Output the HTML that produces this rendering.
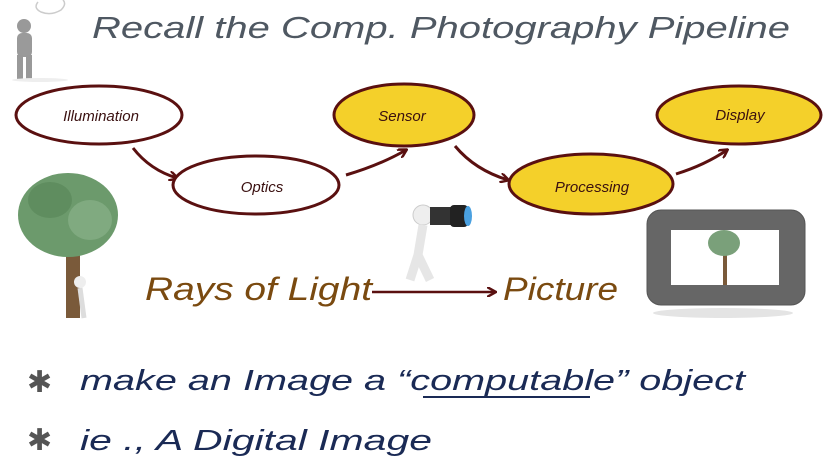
<!DOCTYPE html>
<html><head><meta charset="utf-8"><style>
html,body{margin:0;padding:0;background:#fff;}
svg{display:block;}
text{font-family:"Liberation Sans",sans-serif;}
</style></head><body>
<svg width="838" height="472" viewBox="0 0 838 472" xmlns="http://www.w3.org/2000/svg">
<defs>
<marker id="ah" markerWidth="10" markerHeight="10" refX="8" refY="5" orient="auto" markerUnits="userSpaceOnUse"><path d="M0,0 L9,5 L0,10" fill="none" stroke="#5a1010" stroke-width="2.5"/></marker>
</defs>
<!-- thinking figure -->
<path d="M38,2 q-5,6 3,10 q10,4 20,-2 q6,-6 2,-10" fill="none" stroke="#ccc" stroke-width="1.5"/>
<circle cx="24" cy="26" r="7" fill="#999"/>
<rect x="17" y="33" width="15" height="24" rx="5" fill="#9a9a9a"/>
<rect x="17" y="55" width="6" height="24" fill="#999"/><rect x="26" y="55" width="6" height="24" fill="#999"/>
<ellipse cx="40" cy="80" rx="28" ry="2" fill="#eee"/>
<!-- title -->
<text x="92" y="38" font-size="31" fill="#4f5862" font-style="italic" textLength="698" lengthAdjust="spacingAndGlyphs">Recall the Comp. Photography Pipeline</text>
<!-- arrows -->
<path d="M133,148 Q150,170 177,178" fill="none" stroke="#5a1010" stroke-width="3" marker-end="url(#ah)"/>
<path d="M346,175 Q380,165 406,150" fill="none" stroke="#5a1010" stroke-width="3" marker-end="url(#ah)"/>
<path d="M455,146 Q475,170 508,180" fill="none" stroke="#5a1010" stroke-width="3" marker-end="url(#ah)"/>
<path d="M676,174 Q705,165 727,150" fill="none" stroke="#5a1010" stroke-width="3" marker-end="url(#ah)"/>
<!-- ellipses -->
<ellipse cx="99" cy="115" rx="83" ry="29" fill="#fff" stroke="#5a1010" stroke-width="3"/>
<ellipse cx="256" cy="185" rx="83" ry="29" fill="#fff" stroke="#5a1010" stroke-width="3"/>
<ellipse cx="404" cy="115" rx="70" ry="31" fill="#f4d02a" stroke="#5a1010" stroke-width="3"/>
<ellipse cx="591" cy="184" rx="82" ry="30" fill="#f4d02a" stroke="#5a1010" stroke-width="3"/>
<ellipse cx="739" cy="115" rx="82" ry="29" fill="#f4d02a" stroke="#5a1010" stroke-width="3"/>
<g font-size="15" font-style="italic" fill="#3a1010" text-anchor="middle">
<text x="101" y="121">Illumination</text>
<text x="262" y="192">Optics</text>
<text x="402" y="121">Sensor</text>
<text x="592" y="192">Processing</text>
<text x="740" y="120">Display</text>
</g>
<!-- tree -->
<rect x="66" y="235" width="14" height="83" fill="#7a5a3a"/>
<ellipse cx="68" cy="215" rx="50" ry="42" fill="#6c9a6c"/>
<ellipse cx="50" cy="200" rx="22" ry="18" fill="#5f8d5f"/>
<ellipse cx="90" cy="220" rx="22" ry="20" fill="#80aa80"/>
<circle cx="80" cy="282" r="6" fill="#eee"/>
<path d="M80,288 l4,30" stroke="#ddd" stroke-width="5"/>
<!-- camera man -->
<circle cx="423" cy="215" r="10" fill="#eee" stroke="#ccc"/>
<path d="M423,225 l-5,30 l-8,25 M418,255 l12,25" stroke="#e6e6e6" stroke-width="9" fill="none"/>
<rect x="430" y="207" width="22" height="18" fill="#333"/>
<rect x="450" y="205" width="18" height="22" rx="4" fill="#222"/>
<ellipse cx="468" cy="216" rx="4" ry="10" fill="#4aa0e0"/>
<!-- Rays / picture -->
<text x="145" y="300" font-size="32" font-style="italic" fill="#7a4a10" textLength="227" lengthAdjust="spacingAndGlyphs">Rays of Light</text>
<path d="M372,292 L495,292" stroke="#5a1010" stroke-width="2.5" marker-end="url(#ah)"/>
<text x="503" y="300" font-size="32" font-style="italic" fill="#7a4a10" textLength="115" lengthAdjust="spacingAndGlyphs">Picture</text>
<!-- frame -->
<ellipse cx="723" cy="313" rx="70" ry="5" fill="#e4e4e4"/>
<rect x="647" y="210" width="158" height="95" rx="14" fill="#666" stroke="#555"/>
<rect x="671" y="230" width="108" height="55" fill="#fff"/>
<rect x="723" y="245" width="4" height="40" fill="#7a5a3a"/>
<ellipse cx="724" cy="243" rx="16" ry="13" fill="#7aa07a"/>
<!-- bullets -->
<g font-size="30" fill="#555"><text x="27" y="392">✱</text><text x="27" y="450">✱</text></g>
<text x="80" y="390" font-size="29" font-style="italic" fill="#1a2a55" textLength="665" lengthAdjust="spacingAndGlyphs">make an Image a “computable” object</text>
<line x1="423" y1="397" x2="590" y2="397" stroke="#1a2a55" stroke-width="2"/>
<text x="80" y="450" font-size="29" font-style="italic" fill="#1a2a55" textLength="352" lengthAdjust="spacingAndGlyphs">ie ., A Digital Image</text>
</svg>
</body></html>
